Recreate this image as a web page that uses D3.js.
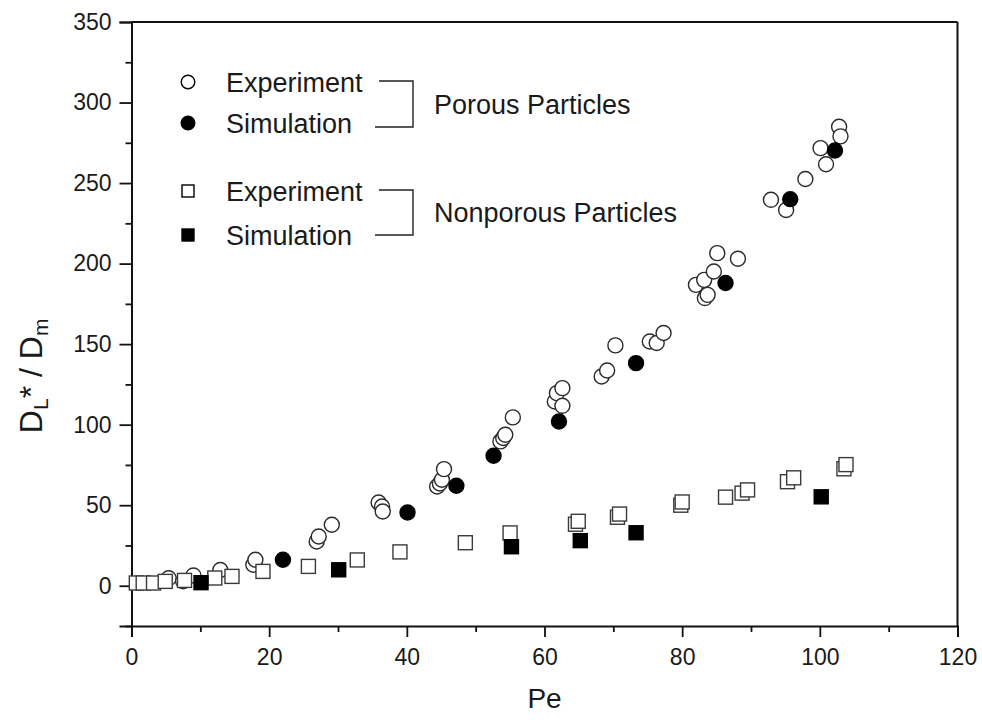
<!DOCTYPE html>
<html>
<head>
<meta charset="utf-8">
<script src="https://cdn.jsdelivr.net/npm/d3@7/dist/d3.min.js"></script>
<style>
  html, body { margin: 0; padding: 0; background: #fff; }
  svg { display: block; font-family: "Liberation Sans", Arial, sans-serif; }
</style>
</head>
<body>
<svg id="chart" width="982" height="722"></svg>
<script>
// Axial dispersion D_L*/D_m versus Peclet number

const xTicks = [0, 20, 40, 60, 80, 100, 120];
const yTicks = [0, 50, 100, 150, 200, 250, 300, 350];

// Porous particles, experiment (Pe, D_L*/D_m)
const porousExpPe = [5.4, 7.5, 9.0, 12.9, 17.7, 18.0, 26.9, 27.2, 29.1,
  35.9, 36.4, 36.5, 44.4, 44.8, 45.1, 45.4, 53.6, 54.0, 54.3, 55.4,
  61.5, 61.8, 62.6, 62.6, 68.3, 69.1, 70.3, 75.3, 76.3, 77.3,
  82.0, 83.2, 83.3, 83.7, 84.6, 85.1, 88.1, 92.9, 95.1, 97.9,
  100.1, 100.9, 102.8, 103.0];
const porousExpVal = [4.6, 2.8, 6.4, 9.8, 13.0, 16.1, 27.5, 30.6, 37.9,
  51.7, 49.2, 46.1, 61.6, 63.5, 65.8, 72.4, 89.6, 91.7, 93.7, 104.5,
  114.4, 119.6, 122.7, 111.7, 129.9, 133.6, 149.2, 151.6, 150.7, 156.9,
  186.8, 189.9, 178.6, 180.6, 195.1, 206.5, 203.0, 239.6, 233.3, 252.5,
  271.7, 261.7, 285.0, 279.0];

// Porous particles, simulation
const porousSimPe = [22.0, 40.1, 47.2, 52.6, 62.1, 73.3, 86.3, 95.7, 102.2];
const porousSimVal = [16.1, 45.5, 62.1, 80.7, 102.0, 138.2, 188.0, 240.0, 270.2];

// Nonporous particles, experiment
const nonporousExpPe = [0.7, 1.7, 3.2, 4.9, 7.7, 12.1, 14.6, 19.1, 25.7,
  32.8, 39.0, 48.5, 55.0, 64.5, 64.9, 70.6, 70.9, 79.8, 80.0, 86.3,
  88.7, 89.5, 95.3, 96.2, 103.5, 103.8];
const nonporousExpVal = [1.7, 1.7, 1.7, 2.7, 3.3, 4.8, 5.8, 8.9, 12.0,
  16.0, 21.0, 26.7, 32.8, 38.2, 40.0, 42.5, 44.5, 50.0, 52.0, 55.0,
  57.5, 59.5, 64.6, 67.0, 72.6, 75.2];

// Nonporous particles, simulation
const nonporousSimPe = [10.1, 30.1, 55.2, 65.2, 73.3, 100.2];
const nonporousSimVal = [1.9, 9.9, 24.2, 28.0, 32.9, 55.2];

const svg = d3.select("#chart");
const mLeft = 131.5, mRight = 957.5, mTop = 22, mBottom = 626;

const x = d3.scaleLinear().domain([0, 120]).range([mLeft, mRight]);
const y = d3.scaleLinear().domain([-25, 350]).range([mBottom, mTop]);

const ink = "#111";
const textInk = "#1a1a1a";

// frame (top and right edges)
svg.append("line").attr("x1", mLeft).attr("x2", mRight).attr("y1", mTop).attr("y2", mTop)
  .attr("stroke", ink).attr("stroke-width", 2);
svg.append("line").attr("x1", mRight).attr("x2", mRight).attr("y1", mTop).attr("y2", mBottom)
  .attr("stroke", ink).attr("stroke-width", 2);

// x axis with minor ticks
const xMinor = d3.axisBottom(x).tickValues(d3.range(10, 120, 20)).tickSize(6).tickFormat("");
const xAxis = d3.axisBottom(x).tickValues(xTicks).tickSize(11).tickPadding(12).tickFormat(d3.format("d"));
const gxm = svg.append("g").attr("transform", `translate(0,${mBottom})`).call(xMinor);
const gx = svg.append("g").attr("transform", `translate(0,${mBottom})`).call(xAxis);

// y axis with minor ticks
const yMinor = d3.axisLeft(y).tickValues(d3.range(-25, 350, 50)).tickSize(6).tickFormat("");
const yAxis = d3.axisLeft(y).tickValues(yTicks).tickSize(12).tickPadding(8).tickFormat(d3.format("d"));
const gym = svg.append("g").attr("transform", `translate(${mLeft},0)`).call(yMinor);
const gy = svg.append("g").attr("transform", `translate(${mLeft},0)`).call(yAxis);

[gx, gxm, gy, gym].forEach(g => {
  g.select(".domain").attr("stroke", ink).attr("stroke-width", 2);
  g.selectAll(".tick line").attr("stroke", ink).attr("stroke-width", 1.8);
  g.selectAll(".tick text").attr("fill", textInk).style("font-size", "23px")
    .style("font-family", "Liberation Sans, Arial, sans-serif");
});
gym.select(".domain").remove();
gxm.select(".domain").remove();

// axis titles
svg.append("text").attr("x", (mLeft + mRight) / 2).attr("y", 708)
  .attr("text-anchor", "middle").style("font-size", "28px").attr("fill", textInk).text("Pe");

const yt = svg.append("text")
  .attr("transform", `translate(42,${(y(0) + y(350)) / 2 + 72}) rotate(-90)`)
  .attr("text-anchor", "middle").style("font-size", "32px").attr("fill", textInk);
yt.append("tspan").text("D");
yt.append("tspan").attr("baseline-shift", "-30%").style("font-size", "21px").text("L");
yt.append("tspan").text("* / D");
yt.append("tspan").attr("baseline-shift", "-30%").style("font-size", "21px").text("m");

// markers
const R = 7.5, S = 14;
const plot = svg.append("g");

function circles(pe, val, filled) {
  plot.append("g").selectAll("circle").data(d3.zip(pe, val)).join("circle")
    .attr("cx", d => x(d[0])).attr("cy", d => y(d[1])).attr("r", R)
    .attr("fill", filled ? "#000" : "#fff")
    .attr("stroke", filled ? "#000" : "#2a2a2a").attr("stroke-width", 1.4);
}
function squares(pe, val, filled) {
  plot.append("g").selectAll("rect").data(d3.zip(pe, val)).join("rect")
    .attr("x", d => x(d[0]) - S / 2).attr("y", d => y(d[1]) - S / 2)
    .attr("width", S).attr("height", S)
    .attr("fill", filled ? "#000" : "#fff")
    .attr("stroke", filled ? "#000" : "#3a3a3a").attr("stroke-width", 1.4);
}
circles(porousExpPe, porousExpVal, false);
circles(porousSimPe, porousSimVal, true);
squares(nonporousExpPe, nonporousExpVal, false);
squares(nonporousSimPe, nonporousSimVal, true);

// legend
const legend = svg.append("g").style("font-size", "27px").attr("fill", textInk);
const legendRows = [
  { y: 82, shape: "circle", filled: false, label: "Experiment" },
  { y: 123, shape: "circle", filled: true, label: "Simulation" },
  { y: 191, shape: "square", filled: false, label: "Experiment" },
  { y: 235, shape: "square", filled: true, label: "Simulation" }
];
legendRows.forEach(r => {
  if (r.shape === "circle") {
    legend.append("circle").attr("cx", 188).attr("cy", r.y).attr("r", 6.8)
      .attr("fill", r.filled ? "#000" : "#fff").attr("stroke", "#000").attr("stroke-width", 1.4);
  } else {
    legend.append("rect").attr("x", 182).attr("y", r.y - 6).attr("width", 12).attr("height", 12)
      .attr("fill", r.filled ? "#000" : "#fff").attr("stroke", "#000").attr("stroke-width", 1.4);
  }
  legend.append("text").attr("x", 226).attr("y", r.y).attr("dy", "0.36em").text(r.label);
});
const groups = [
  { y1: 81, y2: 127, label: "Porous Particles" },
  { y1: 190, y2: 235, label: "Nonporous Particles" }
];
groups.forEach(g => {
  legend.append("path")
    .attr("d", `M379,${g.y1}H413V${g.y2}H375`)
    .attr("fill", "none").attr("stroke", "#222").attr("stroke-width", 1.4);
  legend.append("text").attr("x", 434).attr("y", (g.y1 + g.y2) / 2).attr("dy", "0.36em").text(g.label);
});
</script>
</body>
</html>
